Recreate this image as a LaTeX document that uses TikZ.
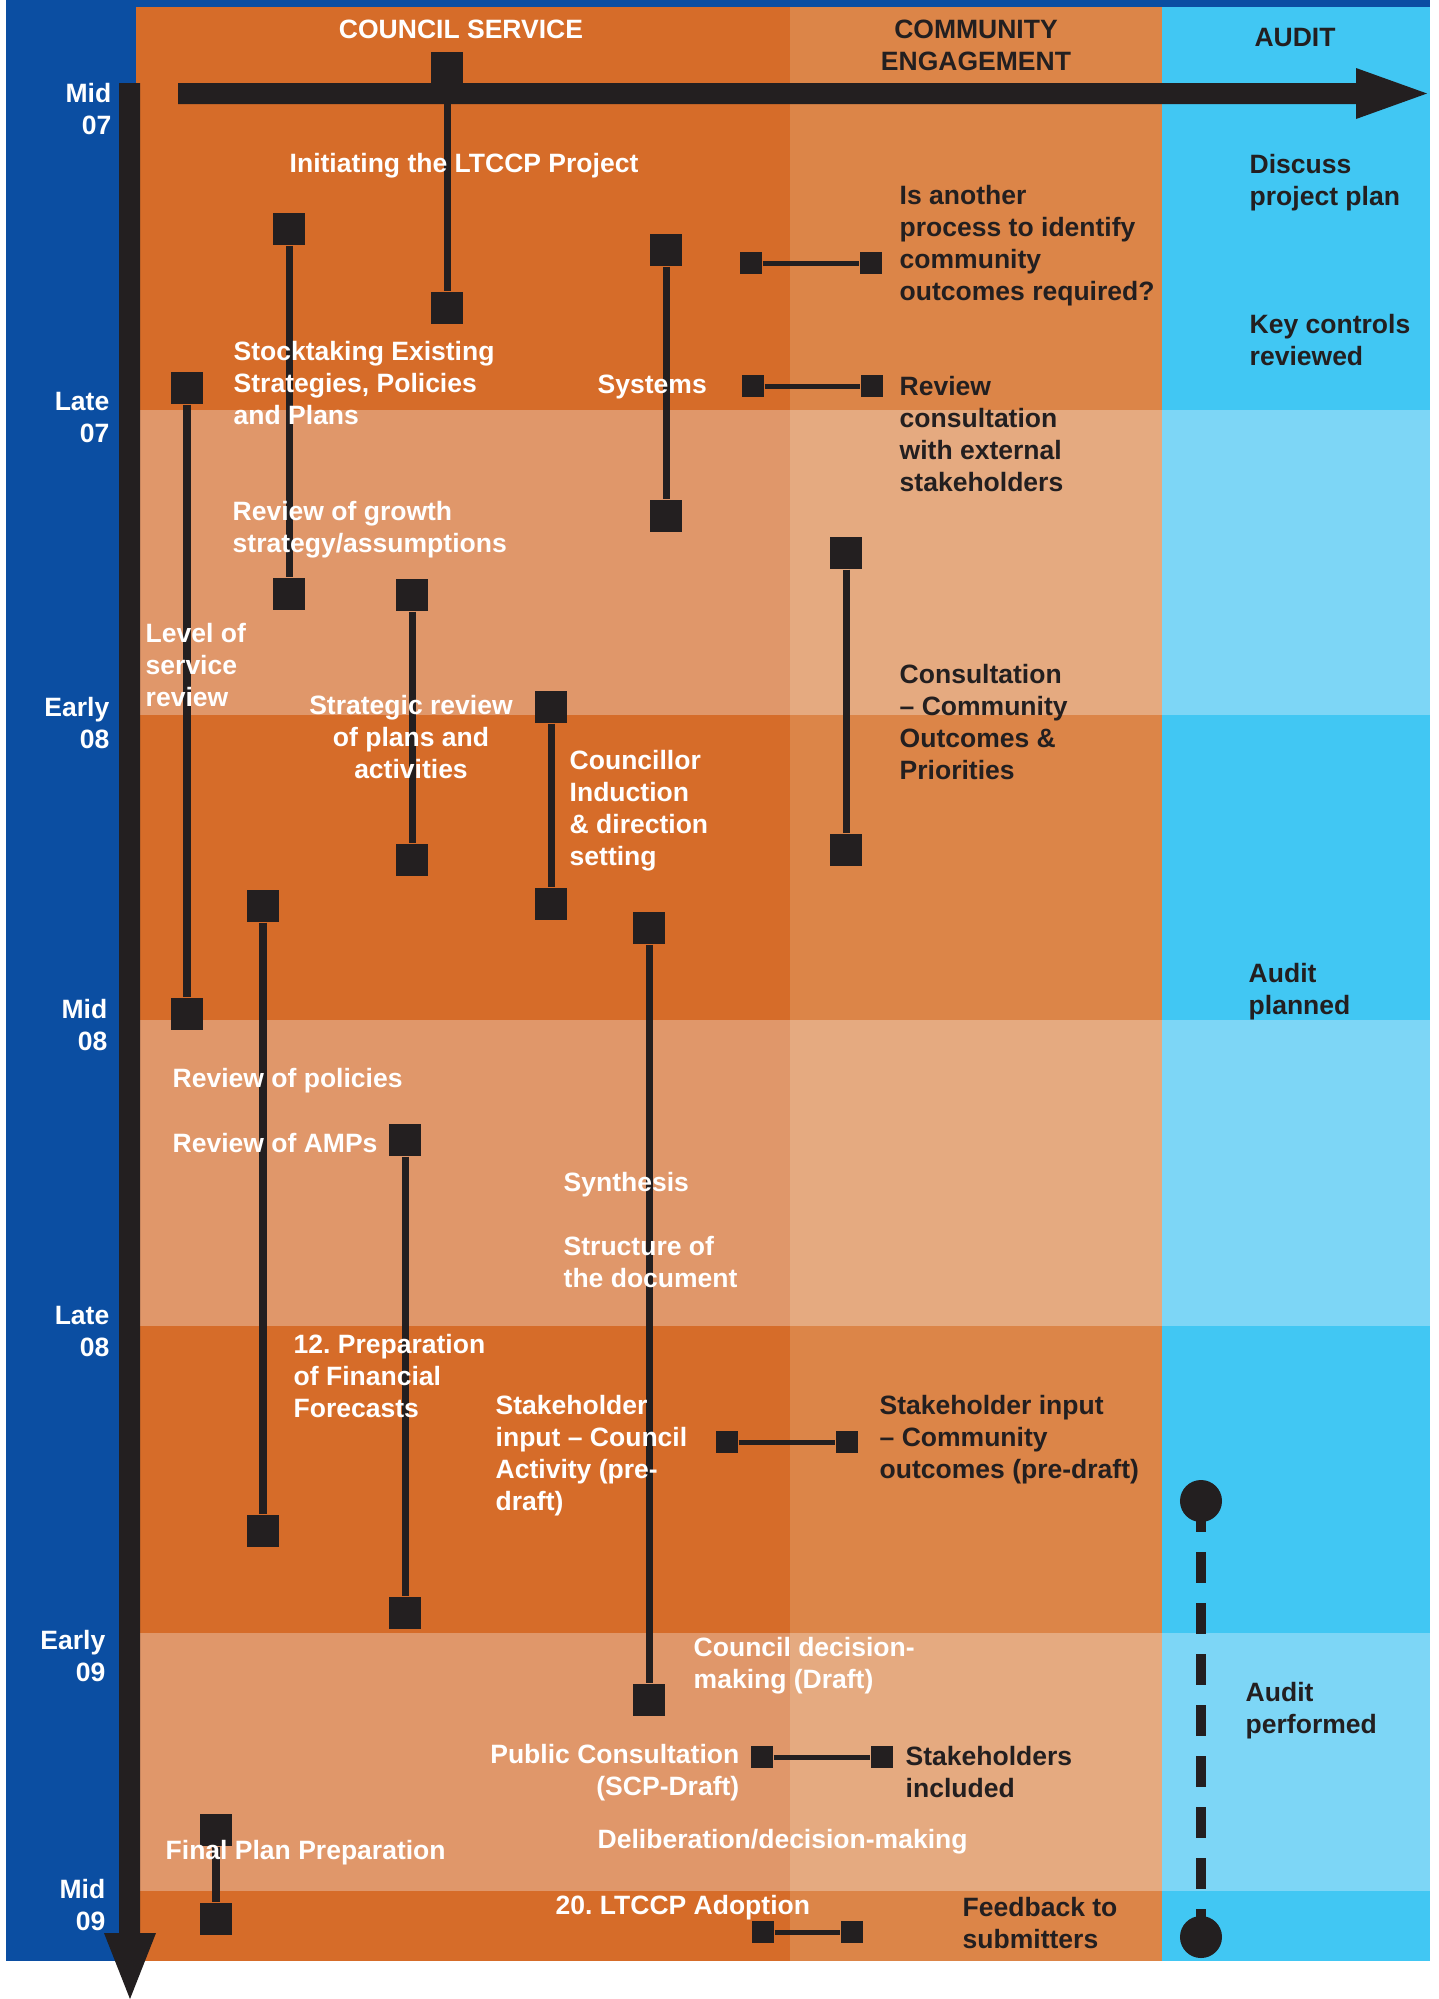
\documentclass[tikz,border=0pt]{standalone}
\usepackage{fontspec}
\setmainfont{Liberation Sans}
\usetikzlibrary{positioning}

\definecolor{ink}{RGB}{35,31,32}
\definecolor{axisblue}{RGB}{11,78,162}
\definecolor{csdark}{RGB}{214,108,41}
\definecolor{cslight}{RGB}{224,151,106}
\definecolor{cedark}{RGB}{220,133,72}
\definecolor{celight}{RGB}{229,170,128}
\definecolor{audark}{RGB}{65,199,243}
\definecolor{aulight}{RGB}{125,214,246}
\newcommand\labfont{\bfseries\frenchspacing\fontsize{7.54pt}{9.1pt}\selectfont}

\begin{document}
\begin{tikzpicture}[x=0.01cm,y=-0.01cm,
 blk/.style={fill=ink,inner sep=0pt,minimum size=0.32cm},
 tick/.style={fill=ink,inner sep=0pt,minimum size=0.22cm},
 dot/.style={circle,fill=ink,inner sep=0pt,minimum size=0.42cm},
 bar/.style={draw=ink,line width=0.07cm},
 link/.style={draw=ink,line width=0.05cm},
 auditline/.style={draw=ink,line width=0.1cm,dash pattern=on 0.31cm off 0.2cm},
 wlab/.style={text=white,font=\labfont,inner sep=0pt,anchor=west,align=left},
 dlab/.style={text=ink,font=\labfont,inner sep=0pt,anchor=west,align=left},
 when/.style={text=white,font=\labfont,inner sep=0pt,anchor=east,align=right}]
 \useasboundingbox (0,0) rectangle (1439,1999);
 \fill[white] (0,0) rectangle (1439,1999);
 \fill[axisblue] (6,0) rectangle (1430,1961);
 % columns and half-year bands
 \fill[csdark] (136,7) rectangle (790,1961);
 \fill[cedark] (790,7) rectangle (1162,1961);
 \fill[audark] (1162,7) rectangle (1430,1961);
 \fill[cslight] (136,410) rectangle (790,715);
 \fill[cslight] (136,1020) rectangle (790,1326);
 \fill[cslight] (136,1633) rectangle (790,1891);
 \fill[celight] (790,410) rectangle (1162,715);
 \fill[celight] (790,1020) rectangle (1162,1326);
 \fill[celight] (790,1633) rectangle (1162,1891);
 \fill[aulight] (1162,410) rectangle (1430,715);
 \fill[aulight] (1162,1020) rectangle (1430,1326);
 \fill[aulight] (1162,1633) rectangle (1430,1891);
 % axes
 \fill[ink] (178,83)--(1356,83)--(1356,68)--(1427,93.5)--(1356,119)--(1356,104)--(178,104)--cycle;
 \fill[ink] (119,83)--(140,83)--(140,1933)--(156,1933)--(130,1999)--(104,1933)--(119,1933)--cycle;
 % headers
 \node[text=white,font=\labfont,inner sep=0pt] (hCouncil) at (461,29) {COUNCIL SERVICE};
 \node[text=ink,font=\labfont,inner sep=0pt,align=center] (hCommunity) at (976,45) {COMMUNITY\\ENGAGEMENT};
 \node[text=ink,font=\labfont,inner sep=0pt] (hAudit) at (1295,37) {AUDIT};
 % time marks
 \node[when] (tMid07) at (112,109) {Mid\\07};
 \node[when] (tLate07) at (110,417) {Late\\07};
 \node[when] (tEarly08) at (110,723) {Early\\08};
 \node[when] (tMid08) at (108,1025) {Mid\\08};
 \node[when] (tLate08) at (110,1331) {Late\\08};
 \node[when] (tEarly09) at (106,1656) {Early\\09};
 \node[when] (tMid09) at (106,1905) {Mid\\09};
 % council service bars
 \node[blk] (in1) at (447,68) {};
 \node[blk] (in2) at (447,308) {};
 \node[blk] (st1) at (289,229) {};
 \node[blk] (st2) at (289,594) {};
 \node[blk] (lv1) at (187,388) {};
 \node[blk] (lv2) at (187,1014) {};
 \node[blk] (sy1) at (666,250) {};
 \node[blk] (sy2) at (666,516) {};
 \node[blk] (sr1) at (412,595) {};
 \node[blk] (sr2) at (412,860) {};
 \node[blk] (ci1) at (551,707) {};
 \node[blk] (ci2) at (551,904) {};
 \node[blk] (pf1) at (263,906) {};
 \node[blk] (pf2) at (263,1531) {};
 \node[blk] (am1) at (405,1140) {};
 \node[blk] (am2) at (405,1613) {};
 \node[blk] (sd1) at (649,928) {};
 \node[blk] (sd2) at (649,1700) {};
 \node[blk] (fp1) at (216,1830) {};
 \node[blk] (fp2) at (216,1919) {};
 \draw[bar] (in1) -- (in2);
 \draw[bar] (st1) -- (st2);
 \draw[bar] (lv1) -- (lv2);
 \draw[bar] (sy1) -- (sy2);
 \draw[bar] (sr1) -- (sr2);
 \draw[bar] (ci1) -- (ci2);
 \draw[bar] (pf1) -- (pf2);
 \draw[bar] (am1) -- (am2);
 \draw[bar] (sd1) -- (sd2);
 \draw[bar] (fp1) -- (fp2);
 % community engagement
 \node[blk] (cc1) at (846,553) {};
 \node[blk] (cc2) at (846,850) {};
 \draw[bar] (cc1) -- (cc2);
 \node[tick] (ia1) at (751,263) {};
 \node[tick] (ia2) at (871,263) {};
 \node[tick] (rc1) at (753,386) {};
 \node[tick] (rc2) at (872,386) {};
 \node[tick] (si1) at (727,1442) {};
 \node[tick] (si2) at (847,1442) {};
 \node[tick] (pc1) at (762,1757) {};
 \node[tick] (pc2) at (882,1757) {};
 \node[tick] (fb1) at (763,1932) {};
 \node[tick] (fb2) at (852,1932) {};
 \draw[link] (ia1) -- (ia2);
 \draw[link] (rc1) -- (rc2);
 \draw[link] (si1) -- (si2);
 \draw[link] (pc1) -- (pc2);
 \draw[link] (fb1) -- (fb2);
 % audit
 \node[dot] (au1) at (1201,1501) {};
 \node[dot] (au2) at (1201,1937) {};
 \draw[auditline] (au1.center) -- (au2.center);
 % council service labels
 \node[wlab] (lInit) at (289,166) {Initiating the LTCCP Project};
 \node[wlab] (lStock) at (233,383) {Stocktaking Existing\\Strategies, Policies\\and Plans};
 \node[wlab] (lSystems) at (597,387) {Systems};
 \node[wlab] (lGrowth) at (232,530) {Review of growth\\strategy/assumptions};
 \node[wlab] (lLevel) at (145,665) {Level of\\service\\review};
 \node[text=white,font=\labfont,inner sep=0pt,align=center] (lStrat) at (411,737) {Strategic review\\of plans and\\activities};
 \node[wlab] (lCouncillor) at (569,811) {Councillor\\Induction\\\& direction\\setting};
 \node[wlab] (lPolicies) at (172,1081) {Review of policies};
 \node[wlab] (lAMPs) at (172,1143) {Review of AMPs};
 \node[wlab] (lSynth) at (563,1185) {Synthesis};
 \node[wlab] (lStruct) at (563,1262) {Structure of\\the document};
 \node[wlab] (lForecast) at (293,1376) {12. Preparation\\of Financial\\Forecasts};
 \node[wlab] (lStakeC) at (495,1456) {Stakeholder\\input -- Council\\Activity (pre-\\draft)};
 \node[wlab] (lDecision) at (693,1666) {Council decision-\\making (Draft)};
 \node[text=white,font=\labfont,inner sep=0pt,anchor=east,align=right] (lPublic) at (740,1773) {Public Consultation\\(SCP-Draft)};
 \node[wlab] (lDelib) at (597,1842) {Deliberation/decision-making};
 \node[wlab] (lFinal) at (165,1853) {Final Plan Preparation};
 \node[wlab] (lAdopt) at (555,1908) {20. LTCCP Adoption};
 % community engagement labels
 \node[dlab] (lAnother) at (899,246) {Is another\\process to identify\\community\\outcomes required?};
 \node[dlab] (lExternal) at (899,434) {Review\\consultation\\with external\\stakeholders};
 \node[dlab] (lConsult) at (899,722) {Consultation\\-- Community\\Outcomes \&\\Priorities};
 \node[dlab] (lStakeK) at (879,1440) {Stakeholder input\\-- Community\\outcomes (pre-draft)};
 \node[dlab] (lIncluded) at (905,1772) {Stakeholders\\included};
 \node[dlab] (lFeedback) at (962,1923) {Feedback to\\submitters};
 % audit labels
 \node[dlab] (lDiscuss) at (1249,183) {Discuss\\project plan};
 \node[dlab] (lKey) at (1249,340) {Key controls\\reviewed};
 \node[dlab] (lPlanned) at (1248,992) {Audit\\planned};
 \node[dlab] (lPerformed) at (1245,1711) {Audit\\performed};
\end{tikzpicture}
\end{document}
